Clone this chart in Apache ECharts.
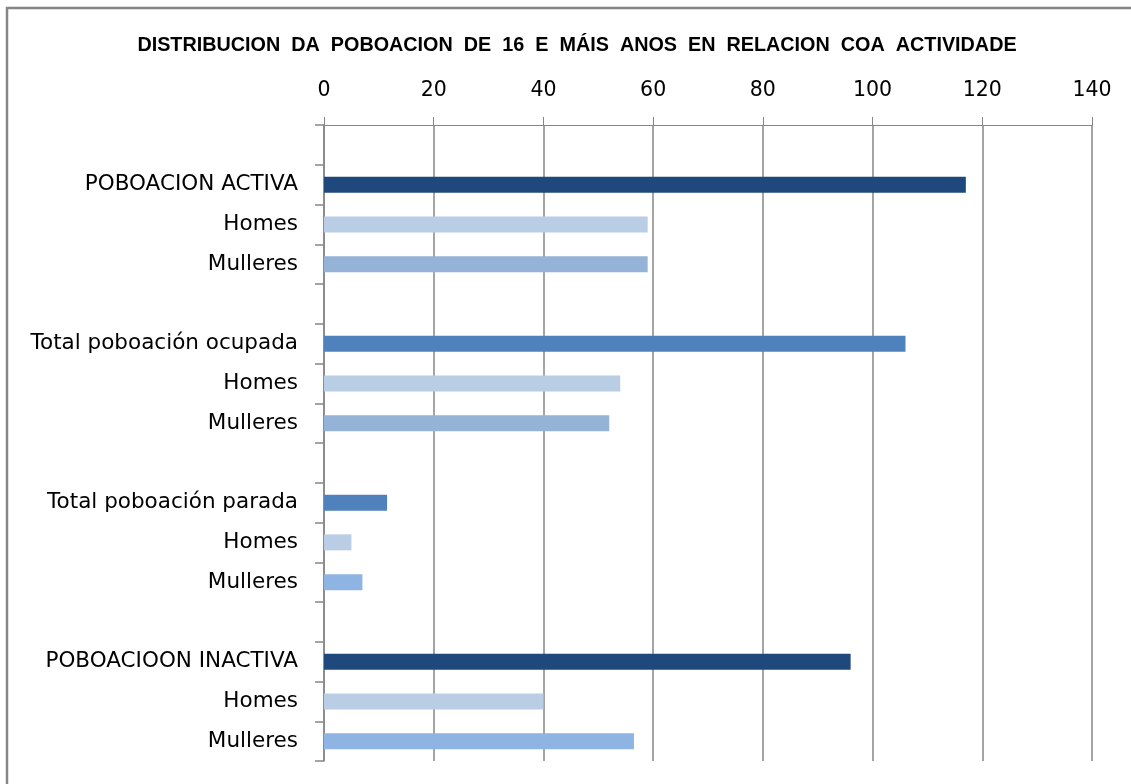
<!DOCTYPE html>
<html>
<head>
<meta charset="utf-8">
<script src="https://cdn.jsdelivr.net/npm/echarts@6/dist/echarts.min.js"></script>
<style>
  html, body { margin: 0; padding: 0; background: #fff; }
  #chart { width: 1131px; height: 784px; }
</style>
</head>
<body>
<div id="chart"></div>
<script>
const categories = [
  "", "POBOACION ACTIVA", "Homes", "Mulleres",
  "", "Total poboación ocupada", "Homes", "Mulleres",
  "", "Total poboación parada", "Homes", "Mulleres",
  "", "POBOACIOON INACTIVA", "Homes", "Mulleres"
];
const values = [
  null, 117, 59, 59,
  null, 106, 54, 52,
  null, 11.5, 5, 7,
  null, 96, 40, 56.5
];
const barColors = [
  null, "#1F497D", "#B9CDE5", "#95B3D7",
  null, "#4F81BD", "#B9CDE5", "#95B3D7",
  null, "#4F81BD", "#B9CDE5", "#8EB4E3",
  null, "#1F497D", "#B9CDE5", "#8EB4E3"
];
const xTicks = { min: 0, max: 140, interval: 20 };

const chart = echarts.init(document.getElementById("chart"));

chart.setOption({
  animation: false,
  title: {
    text: "DISTRIBUCION  DA  POBOACION  DE  16  E  MÁIS  ANOS  EN  RELACION  COA  ACTIVIDADE",
    left: 572,
    textAlign: "center",
    top: 31,
    textStyle: {
      fontFamily: "Liberation Sans",
      fontWeight: "bold",
      fontSize: 19.8,
      color: "#000",
    },
  },
  graphic: [
    {
      type: "rect",
      shape: { x: 7, y: 8, width: 1300, height: 900 },
      style: { fill: "none", stroke: "#868686", lineWidth: 2.5 },
      silent: true,
    },
  ],
  grid: {
    left: 324,
    right: 39,
    top: 125,
    bottom: 23,
  },
  xAxis: {
    type: "value",
    position: "top",
    min: xTicks.min,
    max: xTicks.max,
    interval: xTicks.interval,
    axisLine: { show: true, lineStyle: { color: "#868686", width: 1 } },
    axisTick: { show: true, length: 8, lineStyle: { color: "#868686" } },
    axisLabel: {
      fontFamily: "DejaVu Sans",
      fontSize: 20.5,
      color: "#000",
      margin: 24,
    },
    splitLine: { show: true, lineStyle: { color: "#868686", width: 1.5 } },
  },
  yAxis: {
    type: "category",
    inverse: true,
    data: categories,
    axisLine: { show: true, lineStyle: { color: "#868686", width: 1.5 } },
    axisTick: { show: true, length: 9, interval: 0, lineStyle: { color: "#868686", width: 1.5 } },
    axisLabel: {
      interval: 0,
      fontFamily: "DejaVu Sans",
      fontSize: 21.5,
      color: "#000",
      margin: 26,
    },
    splitLine: { show: false },
  },
  series: [
    {
      type: "bar",
      barWidth: 16,
      data: values.map((v, i) => ({
        value: v,
        itemStyle: { color: barColors[i] },
      })),
    },
  ],
});
</script>
</body>
</html>
